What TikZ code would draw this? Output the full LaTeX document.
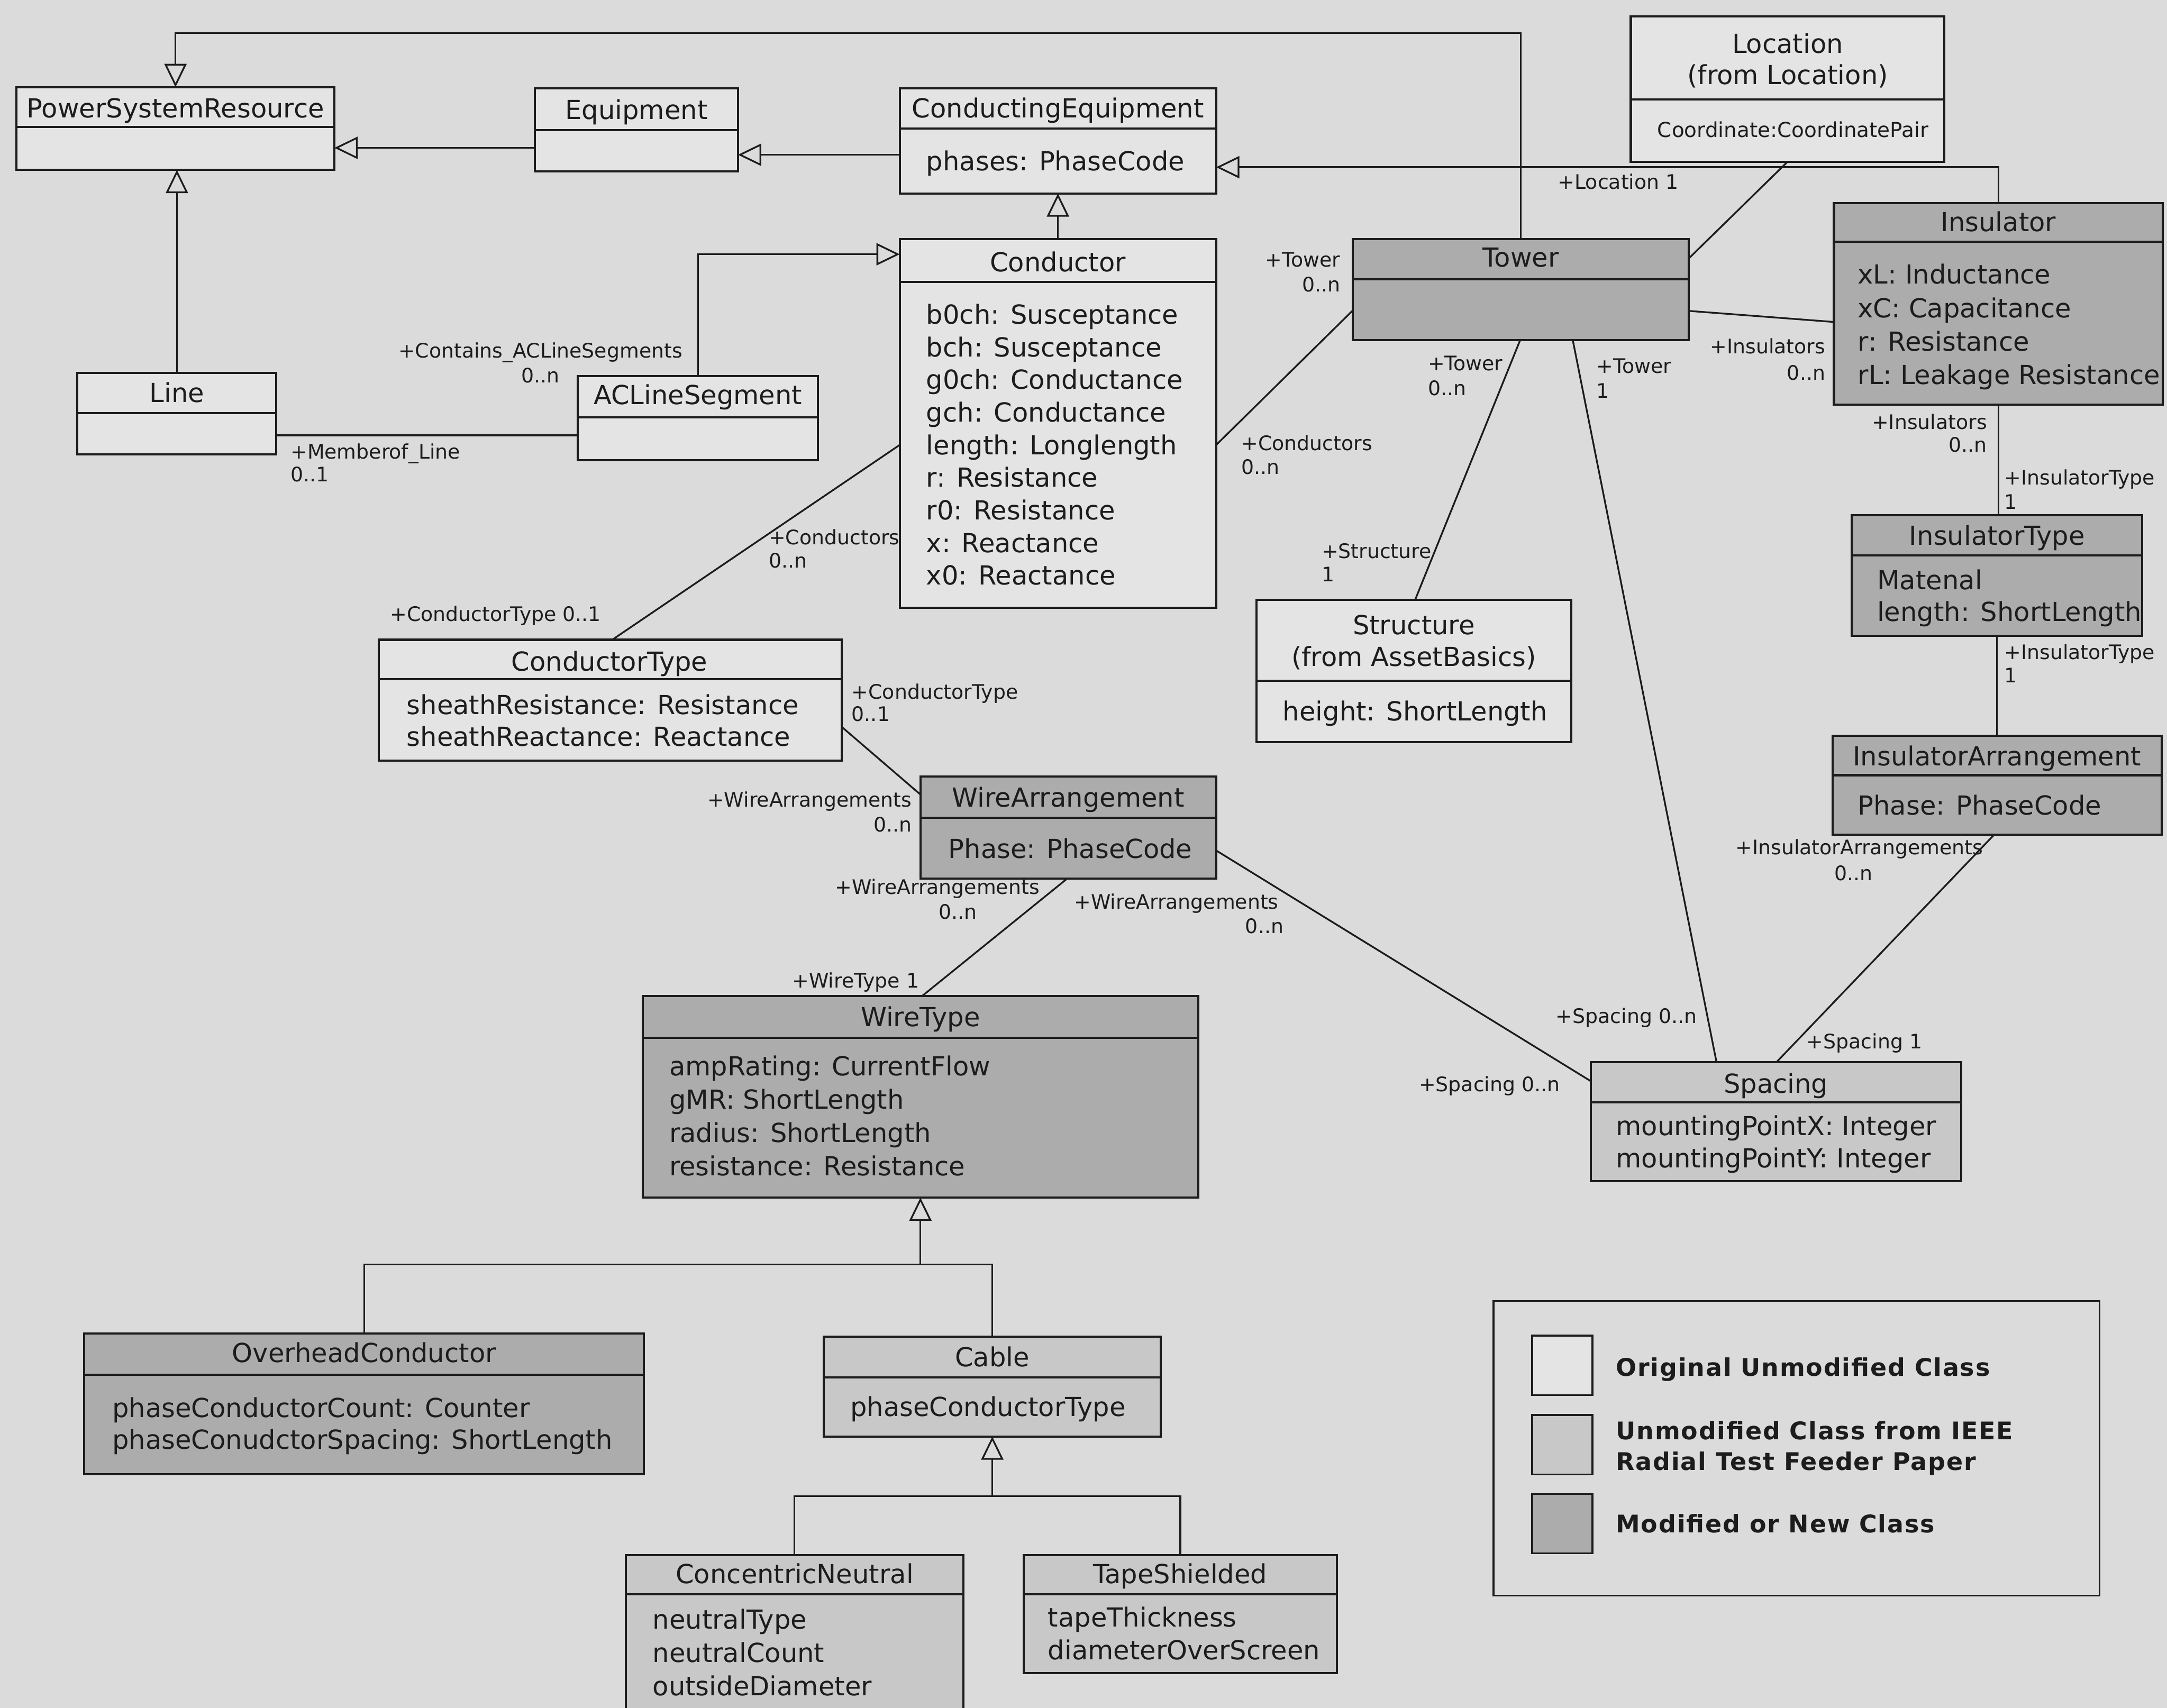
\documentclass[tikz,border=0pt]{standalone}
\usepackage{fontspec}
\setmainfont{DejaVu Sans}
\newfontfamily\legendfont[LetterSpace=4]{DejaVu Sans}
\usetikzlibrary{arrows.meta}

\definecolor{pagebg}{RGB}{219,219,219}
\definecolor{plainfill}{RGB}{228,228,228}
\definecolor{ieeefill}{RGB}{200,200,200}
\definecolor{newfill}{RGB}{172,172,172}
\definecolor{ink}{RGB}{28,28,28}

\tikzset{
  umlbox/.style={draw=ink, line width=1.1pt, inner sep=0pt, outer sep=0pt},
  plaincls/.style={fill=plainfill},
  ieeecls/.style={fill=ieeefill},
  newcls/.style={fill=newfill},
  divider/.style={draw=ink, line width=1.1pt},
  cname/.style={font=\fontsize{13.5}{16}\selectfont, text=ink, inner sep=0pt, anchor=base},
  cattr/.style={font=\fontsize{13.5}{16}\selectfont, text=ink, inner sep=0pt, anchor=base west},
  smallattr/.style={font=\fontsize{10.6}{12}\selectfont, text=ink, inner sep=0pt, anchor=base west},
  role/.style={font=\fontsize{10.3}{12}\selectfont, text=ink, inner sep=0pt, anchor=base west},
  roler/.style={role, anchor=base east},
  assoc/.style={draw=ink, line width=0.9pt},
  genl/.style={draw=ink, line width=0.9pt, -{Triangle[open, length=4.2mm, width=4mm]}},
  legtext/.style={font=\legendfont\bfseries\fontsize{12.5}{15}\selectfont, text=ink, inner sep=0pt, anchor=base west},
}

% class box: name, x1, y1, x2, y2, divider y, fill style
\newcommand{\umlclass}[7]{%
  \node[umlbox, #7, anchor=north west, minimum width={(#4-#2)*0.25mm},
        minimum height={(#5-#3)*0.25mm}] (#1) at (#2,#3) {};
  \draw[divider] (#2,#6) -- (#4,#6);
}
% attribute lines: prefix, x, first baseline, step, list
\newcommand{\attrlines}[5]{%
  \foreach \t [count=\k from 0] in {#5}
    \node[cattr] (#1-a\k) at (#2,{#3+#4*\k}) {\t};
}

\begin{document}
\begin{tikzpicture}[x=0.25mm, y=-0.25mm]
\useasboundingbox (0,0) rectangle (1568,1236);
\clip (0,0) rectangle (1568,1236);
\fill[pagebg] (0,0) rectangle (1568,1236);

% ---------- classes ----------
\umlclass{psr}{12}{63}{242}{123}{92}{plaincls}
\node[cname] (psr-n) at (127,85) {PowerSystemResource};

\umlclass{equip}{387}{64}{534}{124}{94}{plaincls}
\node[cname] (equip-n) at (460.5,86.5) {Equipment};

\umlclass{ce}{651}{64}{880}{140}{93}{plaincls}
\node[cname] (ce-n) at (765.5,85) {ConductingEquipment};
\attrlines{ce}{670}{123.5}{23.6}{phases: PhaseCode}

\umlclass{cond}{651}{173}{880}{440}{204}{plaincls}
\node[cname] (cond-n) at (765.5,196.6) {Conductor};
\attrlines{cond}{670}{234.5}{23.6}{b0ch: Susceptance, bch: Susceptance, g0ch: Conductance, gch: Conductance, length: Longlength, r: Resistance, r0: Resistance, x: Reactance, x0: Reactance}

\umlclass{line}{56}{270}{200}{329}{299}{plaincls}
\node[cname] (line-n) at (128,291) {Line};

\umlclass{acl}{418}{272}{592}{333}{302}{plaincls}
\node[cname] (acl-n) at (505,292.5) {ACLineSegment};

\umlclass{loc}{1180}{12}{1407}{117}{72}{plaincls}
\node[cname] (loc-n1) at (1293.5,38.4) {Location};
\node[cname] (loc-n2) at (1293.5,61) {(from Location)};
\node[smallattr] (loc-a0) at (1199,99.4) {Coordinate:CoordinatePair};

\umlclass{tower}{979}{173}{1222}{246}{202}{newcls}
\node[cname] (tower-n) at (1100.5,193) {Tower};

\umlclass{ins}{1327}{147}{1565}{293}{175}{newcls}
\node[cname] (ins-n) at (1446,167.5) {Insulator};
\attrlines{ins}{1344}{205.5}{24.2}{xL: Inductance, xC: Capacitance, r: Resistance, rL: Leakage Resistance}

\umlclass{instype}{1340}{373}{1550}{460}{402}{newcls}
\node[cname] (instype-n) at (1445,394.6) {InsulatorType};
\attrlines{instype}{1358}{426.6}{23}{Matenal, length: ShortLength}

\umlclass{insarr}{1326}{532.5}{1564}{604}{561}{newcls}
\node[cname] (insarr-n) at (1445,554) {InsulatorArrangement};
\attrlines{insarr}{1344}{589.6}{23}{Phase: PhaseCode}

\umlclass{struct}{909}{434}{1137}{537}{492.6}{plaincls}
\node[cname] (struct-n1) at (1023,459) {Structure};
\node[cname] (struct-n2) at (1023,482) {(from AssetBasics)};
\attrlines{struct}{928}{521.7}{23}{height: ShortLength}

\umlclass{ctype}{274}{463}{609}{550.5}{491.5}{plaincls}
\node[cname] (ctype-n) at (441,485.6) {ConductorType};
\attrlines{ctype}{294}{517}{23}{sheathResistance: Resistance, sheathReactance: Reactance}

\umlclass{wa}{666}{562}{880}{636}{592}{newcls}
\node[cname] (wa-n) at (773,584) {WireArrangement};
\attrlines{wa}{686}{621}{23}{Phase: PhaseCode}

\umlclass{wtype}{465}{721}{867}{866.7}{751}{newcls}
\node[cname] (wtype-n) at (666,742.8) {WireType};
\attrlines{wtype}{484}{778.6}{24}{ampRating: CurrentFlow, gMR: ShortLength, radius: ShortLength, resistance: Resistance}

\umlclass{oh}{61}{965}{466}{1067}{994.8}{newcls}
\node[cname] (oh-n) at (263.5,986) {OverheadConductor};
\attrlines{oh}{81}{1025.6}{23.2}{phaseConductorCount: Counter, phaseConudctorSpacing: ShortLength}

\umlclass{cable}{596}{967.4}{840}{1039.6}{997}{ieeecls}
\node[cname] (cable-n) at (718,989) {Cable};
\attrlines{cable}{615}{1025}{23}{phaseConductorType}

\umlclass{cn}{452.7}{1125.5}{697}{1260}{1153.8}{ieeecls}
\node[cname] (cn-n) at (575,1146) {ConcentricNeutral};
\attrlines{cn}{472}{1179}{24}{neutralType, neutralCount, outsideDiameter}

\umlclass{ts}{740.6}{1125.5}{967.4}{1211}{1153.8}{ieeecls}
\node[cname] (ts-n) at (854,1146) {TapeShielded};
\attrlines{ts}{758}{1177.5}{23.5}{tapeThickness, diameterOverScreen}

\umlclass{spacing}{1151}{768.6}{1419}{854.8}{797.7}{ieeecls}
\node[cname] (spacing-n) at (1285,791) {Spacing};
\attrlines{spacing}{1169}{821.7}{23.3}{mountingPointX: Integer, mountingPointY: Integer}

% ---------- generalizations ----------
\draw[genl] (line.north) -- (line.north |- psr.south);
\draw[genl] (equip.west |- 0,107) -- (psr.east |- 0,107);
\draw[genl] (ce.west |- 0,112) -- (equip.east |- 0,112);
\draw[genl] (cond.north) -- (cond.north |- ce.south);
\draw[genl] (acl.north) |- (cond.west |- 0,184);
\draw[genl] (tower.north) -- (tower.north |- 0,24) -| (psr.north);
\draw[genl] (ins.north) |- (ce.east |- 0,121);

\coordinate (wtjoin) at (wtype.south |- 0,915);
\draw[genl] (wtjoin) -- (wtype.south);
\draw[assoc] (oh.north) |- (cable.north |- wtjoin) -- (cable.north);

\coordinate (cbjoin) at (cable.south |- 0,1082.7);
\draw[genl] (cbjoin) -- (cable.south);
\draw[assoc] (cn.north) |- (ts.north |- cbjoin) -- (ts.north);

% ---------- associations ----------
\draw[assoc] (line.east |- 0,315) -- (acl.west |- 0,315);
\draw[assoc] (loc.south) -- (tower.east |- 0,187);
\draw[assoc] (tower.west |- 0,224.5) -- (cond.east |- 0,322);
\draw[assoc] (tower.east |- 0,225) -- (ins.west |- 0,233);
\draw[assoc] (tower.south -| 1100,0) -- (struct.north -| 1024,0);
\draw[assoc] (tower.south -| 1138,0) -- (spacing.north -| 1242,0);
\draw[assoc] (ins.south) -- (ins.south |- instype.north);
\draw[assoc] (instype.south) -- (instype.south |- insarr.north);
\draw[assoc] (insarr.south -| 1443,0) -- (spacing.north -| 1285.5,0);
\draw[assoc] (cond.west |- 0,322) -- (ctype.north -| 443,0);
\draw[assoc] (ctype.east |- 0,526) -- (wa.west |- 0,575);
\draw[assoc] (wa.south -| 772,0) -- (wtype.north -| 667,0);
\draw[assoc] (wa.east |- 0,615.5) -- (spacing.west |- 0,782.4);

% ---------- role names and multiplicities ----------
\node[role]  (r1a) at (288,259) {+Contains\_ACLineSegments};
\node[roler] (r1b) at (405,277) {0..n};
\node[role]  (r2a) at (210,332) {+Memberof\_Line};
\node[role]  (r2b) at (210,348.5) {0..1};
\node[role]  (r3a) at (556,394) {+Conductors};
\node[role]  (r3b) at (556,411) {0..n};
\node[role]  (r4a) at (282,449.5) {+ConductorType 0..1};
\node[roler] (r5a) at (970,193) {+Tower};
\node[roler] (r5b) at (970,211) {0..n};
\node[role]  (r6a) at (898,326) {+Conductors};
\node[role]  (r6b) at (898,343) {0..n};
\node[role]  (r7a) at (1127,137) {+Location 1};
\node[role]  (r8a) at (1033,268) {+Tower};
\node[role]  (r8b) at (1033,286) {0..n};
\node[role]  (r9a) at (1155,270) {+Tower};
\node[role]  (r9b) at (1155,288) {1};
\node[roler] (r10a) at (1321,256) {+Insulators};
\node[roler] (r10b) at (1321,275) {0..n};
\node[roler] (r11a) at (1438,310.5) {+Insulators};
\node[roler] (r11b) at (1438,327) {0..n};
\node[role]  (r12a) at (1450,351) {+InsulatorType};
\node[role]  (r12b) at (1450,368.4) {1};
\node[role]  (r13a) at (1450,477) {+InsulatorType};
\node[role]  (r13b) at (1450,494) {1};
\node[role]  (r14a) at (956,404) {+Structure};
\node[role]  (r14b) at (956,421) {1};
\node[role]  (r15a) at (616,506) {+ConductorType};
\node[role]  (r15b) at (616,522) {0..1};
\node[roler] (r16a) at (660,584) {+WireArrangements};
\node[roler] (r16b) at (660,602) {0..n};
\node[role]  (r17a) at (604,647) {+WireArrangements};
\node[role]  (r17b) at (679,665) {0..n};
\node[role]  (r18a) at (777,658) {+WireArrangements};
\node[roler] (r18b) at (929,675.5) {0..n};
\node[role]  (r19a) at (573,715) {+WireType 1};
\node[roler] (r20a) at (1435,618.4) {+InsulatorArrangements};
\node[role]  (r20b) at (1327,637) {0..n};
\node[roler] (r21a) at (1228,740.6) {+Spacing 0..n};
\node[role]  (r22a) at (1307,759) {+Spacing 1};
\node[roler] (r23a) at (1129,790) {+Spacing 0..n};

% ---------- legend ----------
\node[draw=ink, line width=0.9pt, inner sep=0pt, anchor=north west,
      minimum width={438.5*0.25mm}, minimum height={213*0.25mm}] (legend) at (1080,941) {};
\node[draw=ink, line width=0.9pt, fill=plainfill, inner sep=0pt, anchor=north west,
      minimum width={43.6*0.25mm}, minimum height={43*0.25mm}] (sw1) at (1108,966) {};
\node[draw=ink, line width=0.9pt, fill=ieeefill, inner sep=0pt, anchor=north west,
      minimum width={43.6*0.25mm}, minimum height={43*0.25mm}] (sw2) at (1108,1023.4) {};
\node[draw=ink, line width=0.9pt, fill=newfill, inner sep=0pt, anchor=north west,
      minimum width={43.6*0.25mm}, minimum height={43*0.25mm}] (sw3) at (1108,1080.5) {};
\node[legtext] (lg1) at (1169,996) {Original Unmodified Class};
\node[legtext] (lg2a) at (1169,1042) {Unmodified Class from IEEE};
\node[legtext] (lg2b) at (1169,1064) {Radial Test Feeder Paper};
\node[legtext] (lg3) at (1169,1109) {Modified or New Class};
\end{tikzpicture}
\end{document}
